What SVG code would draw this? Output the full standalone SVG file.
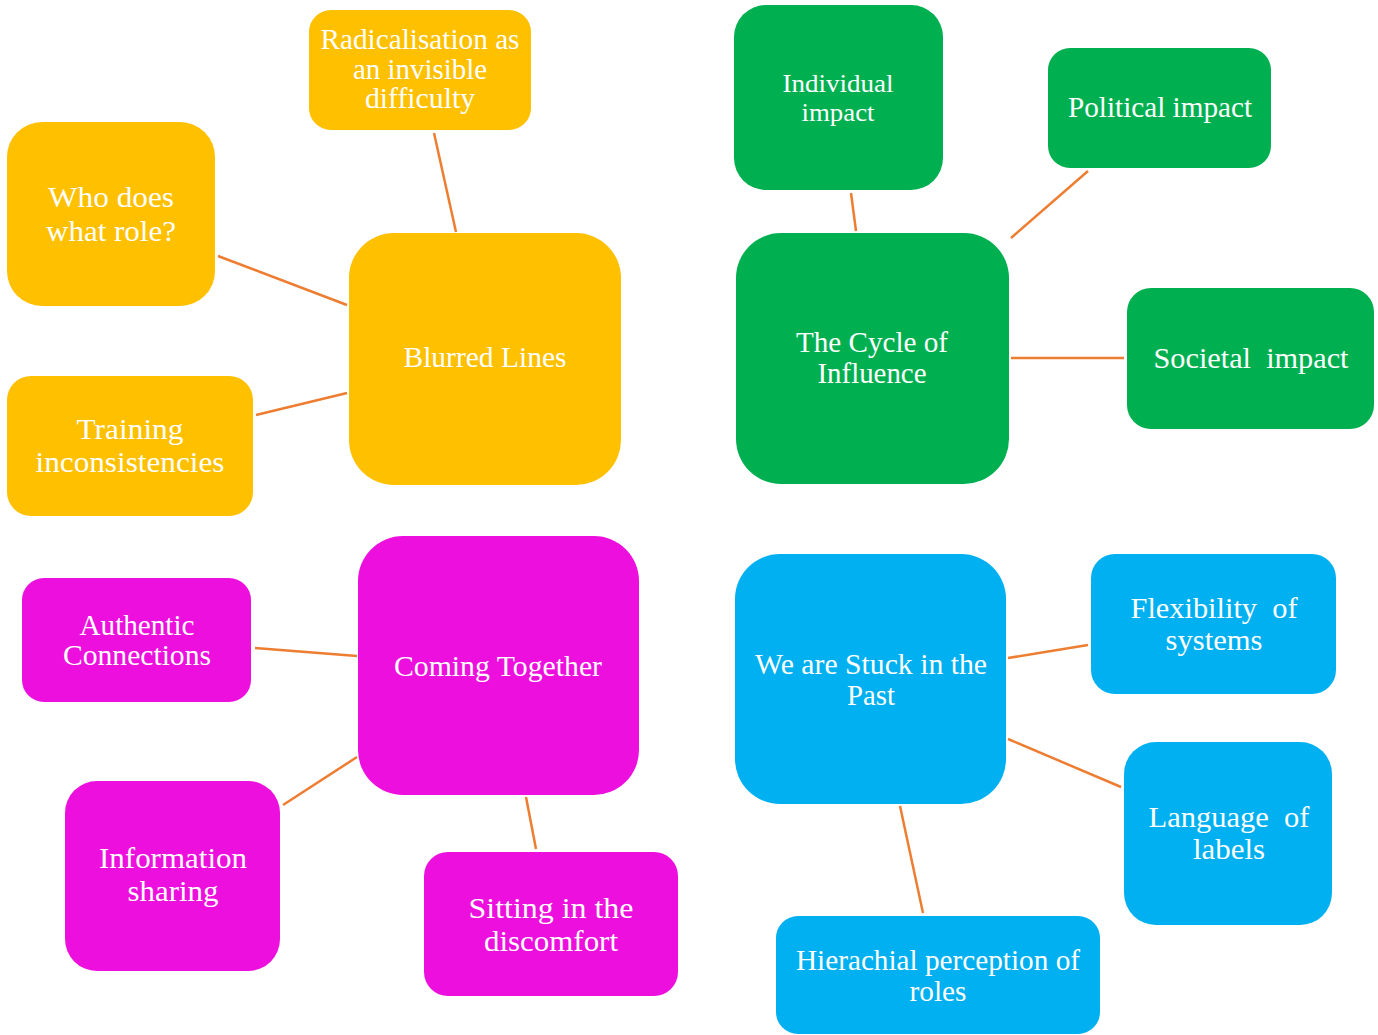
<svg xmlns="http://www.w3.org/2000/svg" width="1378" height="1035" viewBox="0 0 1378 1035">
  <style>
    .yel { fill: #FFC000; }
    .grn { fill: #00B050; }
    .mag { fill: #ED0FDD; }
    .blu { fill: #00B0F0; }
    .lbl { fill: #FFFFFF; font-family: "Liberation Serif", "Times New Roman", serif; font-size: 29px; text-anchor: middle; }
    .sm { font-size: 26px; }
    .conn line { stroke: #ED7D31; stroke-width: 2.5; stroke-linecap: butt; }
  </style>
  <rect width="1378" height="1035" fill="#FFFFFF"/>

  <!-- connectors -->
  <g id="connectors" class="conn">
    <line x1="434" y1="133" x2="456" y2="232"/>
    <line x1="218" y1="256" x2="347" y2="305"/>
    <line x1="256" y1="415" x2="347" y2="393"/>
    <line x1="851" y1="193" x2="856" y2="231"/>
    <line x1="1088" y1="171" x2="1011" y2="238"/>
    <line x1="1011" y1="358" x2="1124" y2="358"/>
    <line x1="255" y1="648" x2="357" y2="656"/>
    <line x1="283" y1="805" x2="357" y2="757"/>
    <line x1="526" y1="797" x2="536" y2="849"/>
    <line x1="1008" y1="658" x2="1088" y2="645"/>
    <line x1="1008" y1="739" x2="1121" y2="787"/>
    <line x1="900" y1="806" x2="923" y2="913"/>
  </g>

  <!-- Blurred Lines cluster -->
  <g id="blurred-lines">
    <rect class="yel" x="349" y="233" width="272" height="252" rx="45"/>
    <text class="lbl" x="485" y="367" textLength="163" lengthAdjust="spacingAndGlyphs">Blurred Lines</text>
  </g>
  <g id="radicalisation">
    <rect class="yel" x="309" y="10" width="222" height="120" rx="22"/>
    <text class="lbl" x="420" y="49" textLength="199" lengthAdjust="spacingAndGlyphs">Radicalisation as</text>
    <text class="lbl" x="420" y="79" textLength="134" lengthAdjust="spacingAndGlyphs">an invisible</text>
    <text class="lbl" x="420" y="108" textLength="110" lengthAdjust="spacingAndGlyphs">difficulty</text>
  </g>
  <g id="who-does-what">
    <rect class="yel" x="7" y="122" width="208" height="184" rx="35"/>
    <text class="lbl" x="111" y="207" textLength="126" lengthAdjust="spacingAndGlyphs">Who does</text>
    <text class="lbl" x="111" y="241" textLength="130" lengthAdjust="spacingAndGlyphs">what role?</text>
  </g>
  <g id="training">
    <rect class="yel" x="7" y="376" width="246" height="140" rx="24"/>
    <text class="lbl" x="130" y="439" textLength="107" lengthAdjust="spacingAndGlyphs">Training</text>
    <text class="lbl" x="130" y="472" textLength="189" lengthAdjust="spacingAndGlyphs">inconsistencies</text>
  </g>

  <!-- The Cycle of Influence cluster -->
  <g id="cycle-of-influence">
    <rect class="grn" x="736" y="233" width="273" height="251" rx="45"/>
    <text class="lbl" x="872" y="352" textLength="152" lengthAdjust="spacingAndGlyphs">The Cycle of</text>
    <text class="lbl" x="872" y="383" textLength="109" lengthAdjust="spacingAndGlyphs">Influence</text>
  </g>
  <g id="individual-impact">
    <rect class="grn" x="734" y="5" width="209" height="185" rx="32"/>
    <text class="lbl sm" x="838" y="92" textLength="111" lengthAdjust="spacingAndGlyphs">Individual</text>
    <text class="lbl sm" x="838" y="121" textLength="73" lengthAdjust="spacingAndGlyphs">impact</text>
  </g>
  <g id="political-impact">
    <rect class="grn" x="1048" y="48" width="223" height="120" rx="22"/>
    <text class="lbl" x="1160" y="117" textLength="184" lengthAdjust="spacingAndGlyphs">Political impact</text>
  </g>
  <g id="societal-impact">
    <rect class="grn" x="1127" y="288" width="247" height="141" rx="24"/>
    <text class="lbl" x="1251" y="368" textLength="195" lengthAdjust="spacingAndGlyphs" xml:space="preserve">Societal  impact</text>
  </g>

  <!-- Coming Together cluster -->
  <g id="coming-together">
    <rect class="mag" x="358" y="536" width="281" height="259" rx="45"/>
    <text class="lbl" x="498" y="676" textLength="208" lengthAdjust="spacingAndGlyphs">Coming Together</text>
  </g>
  <g id="authentic-connections">
    <rect class="mag" x="22" y="578" width="229" height="124" rx="22"/>
    <text class="lbl" x="137" y="635" textLength="115" lengthAdjust="spacingAndGlyphs">Authentic</text>
    <text class="lbl" x="137" y="665" textLength="148" lengthAdjust="spacingAndGlyphs">Connections</text>
  </g>
  <g id="information-sharing">
    <rect class="mag" x="65" y="781" width="215" height="190" rx="32"/>
    <text class="lbl" x="173" y="868" textLength="148" lengthAdjust="spacingAndGlyphs">Information</text>
    <text class="lbl" x="173" y="901" textLength="91" lengthAdjust="spacingAndGlyphs">sharing</text>
  </g>
  <g id="sitting-discomfort">
    <rect class="mag" x="424" y="852" width="254" height="144" rx="24"/>
    <text class="lbl" x="551" y="918" textLength="165" lengthAdjust="spacingAndGlyphs">Sitting in the</text>
    <text class="lbl" x="551" y="951" textLength="134" lengthAdjust="spacingAndGlyphs">discomfort</text>
  </g>

  <!-- We are Stuck in the Past cluster -->
  <g id="stuck-in-past">
    <rect class="blu" x="735" y="554" width="271" height="250" rx="45"/>
    <text class="lbl" x="871" y="674" textLength="232" lengthAdjust="spacingAndGlyphs">We are Stuck in the</text>
    <text class="lbl" x="871" y="705" textLength="48" lengthAdjust="spacingAndGlyphs">Past</text>
  </g>
  <g id="flexibility-systems">
    <rect class="blu" x="1091" y="554" width="245" height="140" rx="24"/>
    <text class="lbl" x="1214" y="618" textLength="167" lengthAdjust="spacingAndGlyphs" xml:space="preserve">Flexibility  of</text>
    <text class="lbl" x="1214" y="650" textLength="97" lengthAdjust="spacingAndGlyphs">systems</text>
  </g>
  <g id="language-labels">
    <rect class="blu" x="1124" y="742" width="208" height="183" rx="32"/>
    <text class="lbl" x="1229" y="827" textLength="161" lengthAdjust="spacingAndGlyphs" xml:space="preserve">Language  of</text>
    <text class="lbl" x="1229" y="859" textLength="72" lengthAdjust="spacingAndGlyphs">labels</text>
  </g>
  <g id="hierarchical-roles">
    <rect class="blu" x="776" y="916" width="324" height="118" rx="22"/>
    <text class="lbl" x="938" y="970" textLength="284" lengthAdjust="spacingAndGlyphs">Hierachial perception of</text>
    <text class="lbl" x="938" y="1001" textLength="57" lengthAdjust="spacingAndGlyphs">roles</text>
  </g>
</svg>
